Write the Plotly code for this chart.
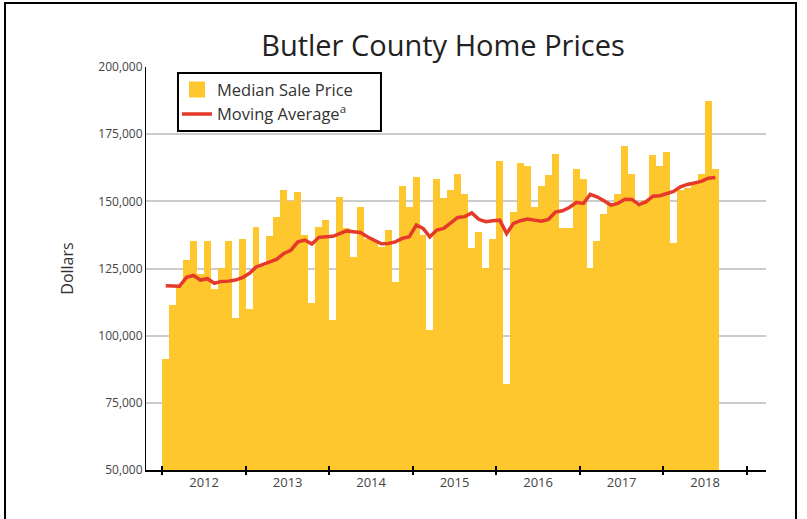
import pandas as pd
import plotly.graph_objects as go

# ---- data ----
month_dates = pd.date_range("2012-01-01", periods=80, freq="MS")
months = [d.strftime("%Y-%m-%d") for d in month_dates]

median_price = [
    91200, 111400, 118500, 128100, 135200, 122900, 135200, 117200, 125300, 135200, 106700, 135800,
    110100, 140300, 126000, 137200, 144100, 154200, 150200, 153300, 137500, 112200, 140300, 143000,
    105800, 151500, 140000, 129300, 148000, 136000, 135500, 133000, 139500, 120000, 155800, 148000,
    159000, 137600, 102000, 158200, 151400, 154200, 160100, 152700, 132700, 138600, 125300, 136000,
    165200, 82000, 146100, 164100, 163200, 147800, 155700, 159700, 167700, 140100, 140100, 162100,
    158200, 125300, 135300, 145200, 148600, 152700, 170600, 160200, 148600, 150400, 167200, 163000,
    168300, 134400, 154400, 154800, 157200, 160200, 187300, 162200,
]

moving_avg = [
    118600, 118400, 118400, 121700, 122400, 120700, 121200, 119500, 120200, 120300, 120700, 121600,
    123200, 125600, 126700, 127500, 128500, 130600, 131800, 134900, 135600, 134100, 136600, 136800,
    137000, 138000, 139000, 138700, 138400, 136800, 135600, 134200, 134300, 134900, 136200, 136800,
    141200, 139900, 136800, 139300, 139900, 141800, 144000, 144300, 145700, 143300, 142400, 142800,
    143000, 138000, 141800, 142800, 143400, 143000, 142600, 143300, 146000, 146500, 147700, 149600,
    149200, 152600, 151700, 150200, 148600, 149200, 150800, 150700, 148800, 149800, 151900, 152100,
    152900, 153700, 155400, 156300, 156800, 157400, 158600, 158900,
]

y_ticks = [50000, 75000, 100000, 125000, 150000, 175000, 200000]

BAR_COLOR = "#FEC72E"
LINE_COLOR = "#E5392A"
FONT = "Open Sans"
MS_PER_DAY = 86400000

bar_widths = [d.days_in_month * MS_PER_DAY for d in month_dates]

fig = go.Figure()

fig.add_trace(go.Bar(
    x=months, y=median_price, name="Median Sale Price",
    width=bar_widths,
    marker=dict(color=BAR_COLOR, line=dict(width=0)),
    xperiod="M1", xperiodalignment="middle",
    showlegend=False,
))
# legend entry for bars (larger square swatch)
fig.add_trace(go.Scatter(
    x=[None], y=[None], mode="markers", name="Median Sale Price",
    marker=dict(symbol="square", size=17, color=BAR_COLOR),
))
fig.add_trace(go.Scatter(
    x=months, y=moving_avg, name="Moving Average<sup>a</sup>", mode="lines",
    line=dict(color=LINE_COLOR, width=3.5),
    xperiod="M1", xperiodalignment="middle",
))
# overlay axes just to draw the crossing year tick marks
fig.add_trace(go.Scatter(x=[None], y=[None], xaxis="x2", showlegend=False, hoverinfo="skip"))
fig.add_trace(go.Scatter(x=[None], y=[None], xaxis="x3", showlegend=False, hoverinfo="skip"))

x_range = ["2011-10-22", "2019-03-26"]
tick_axis = dict(
    type="date", range=x_range, overlaying="x", anchor="y", side="bottom",
    tick0="2012-01-01", dtick="M12", ticklen=4, tickwidth=1.5, tickcolor="black",
    showticklabels=False, showline=False, showgrid=False, zeroline=False,
)

fig.update_layout(
    width=807, height=519,
    margin=dict(l=146, r=41, t=67, b=49),
    paper_bgcolor="white", plot_bgcolor="white",
    bargap=0,
    font=dict(family=FONT, color="#333333"),
    title=dict(text="Butler County Home Prices", x=0.479, xanchor="center", xref="paper",
               y=1 - 46 / 519, yanchor="middle", yref="container",
               font=dict(size=29, color="#222222", family=FONT)),
    legend=dict(x=0.05, y=0.987, xanchor="left", yanchor="top",
                bgcolor="rgba(0,0,0,0)", borderwidth=0,
                font=dict(size=16.5, color="#333333", family=FONT),
                tracegroupgap=0),
    xaxis=dict(
        type="date", range=x_range,
        tick0="2012-01-01", dtick="M12", tickformat="%Y", ticklabelmode="period",
        ticks="",
        showline=True, linecolor="black", linewidth=1.5,
        showgrid=False, zeroline=False,
        tickfont=dict(size=13, color="#444444"),
    ),
    xaxis2=dict(tick_axis, ticks="inside"),
    xaxis3=dict(tick_axis, ticks="outside"),
    yaxis=dict(
        range=[50000, 200000], tickvals=y_ticks, tickformat=",",
        showgrid=True, gridcolor="#cccccc", gridwidth=1.5,
        showline=True, linecolor="black", linewidth=1,
        zeroline=False, ticks="",
        tickfont=dict(size=12, color="#444444"),
        title=dict(text="Dollars", font=dict(size=16, color="#333333"), standoff=20),
    ),
    shapes=[
        # outer frame
        dict(type="rect", xref="paper", yref="paper",
             x0=-0.2274, x1=1.0484, y0=-0.3, y1=1.1588,
             line=dict(color="black", width=2), fillcolor="rgba(0,0,0,0)", layer="below"),
        # legend box
        dict(type="rect", xref="paper", yref="paper",
             x0=0.0516, x1=0.379, y0=0.841, y1=0.985,
             line=dict(color="black", width=2), fillcolor="white", layer="above"),
    ],
)

fig.write_html("out.html", config={"displayModeBar": False},
               post_script="document.body.style.margin='0';document.body.style.overflow='hidden';")
